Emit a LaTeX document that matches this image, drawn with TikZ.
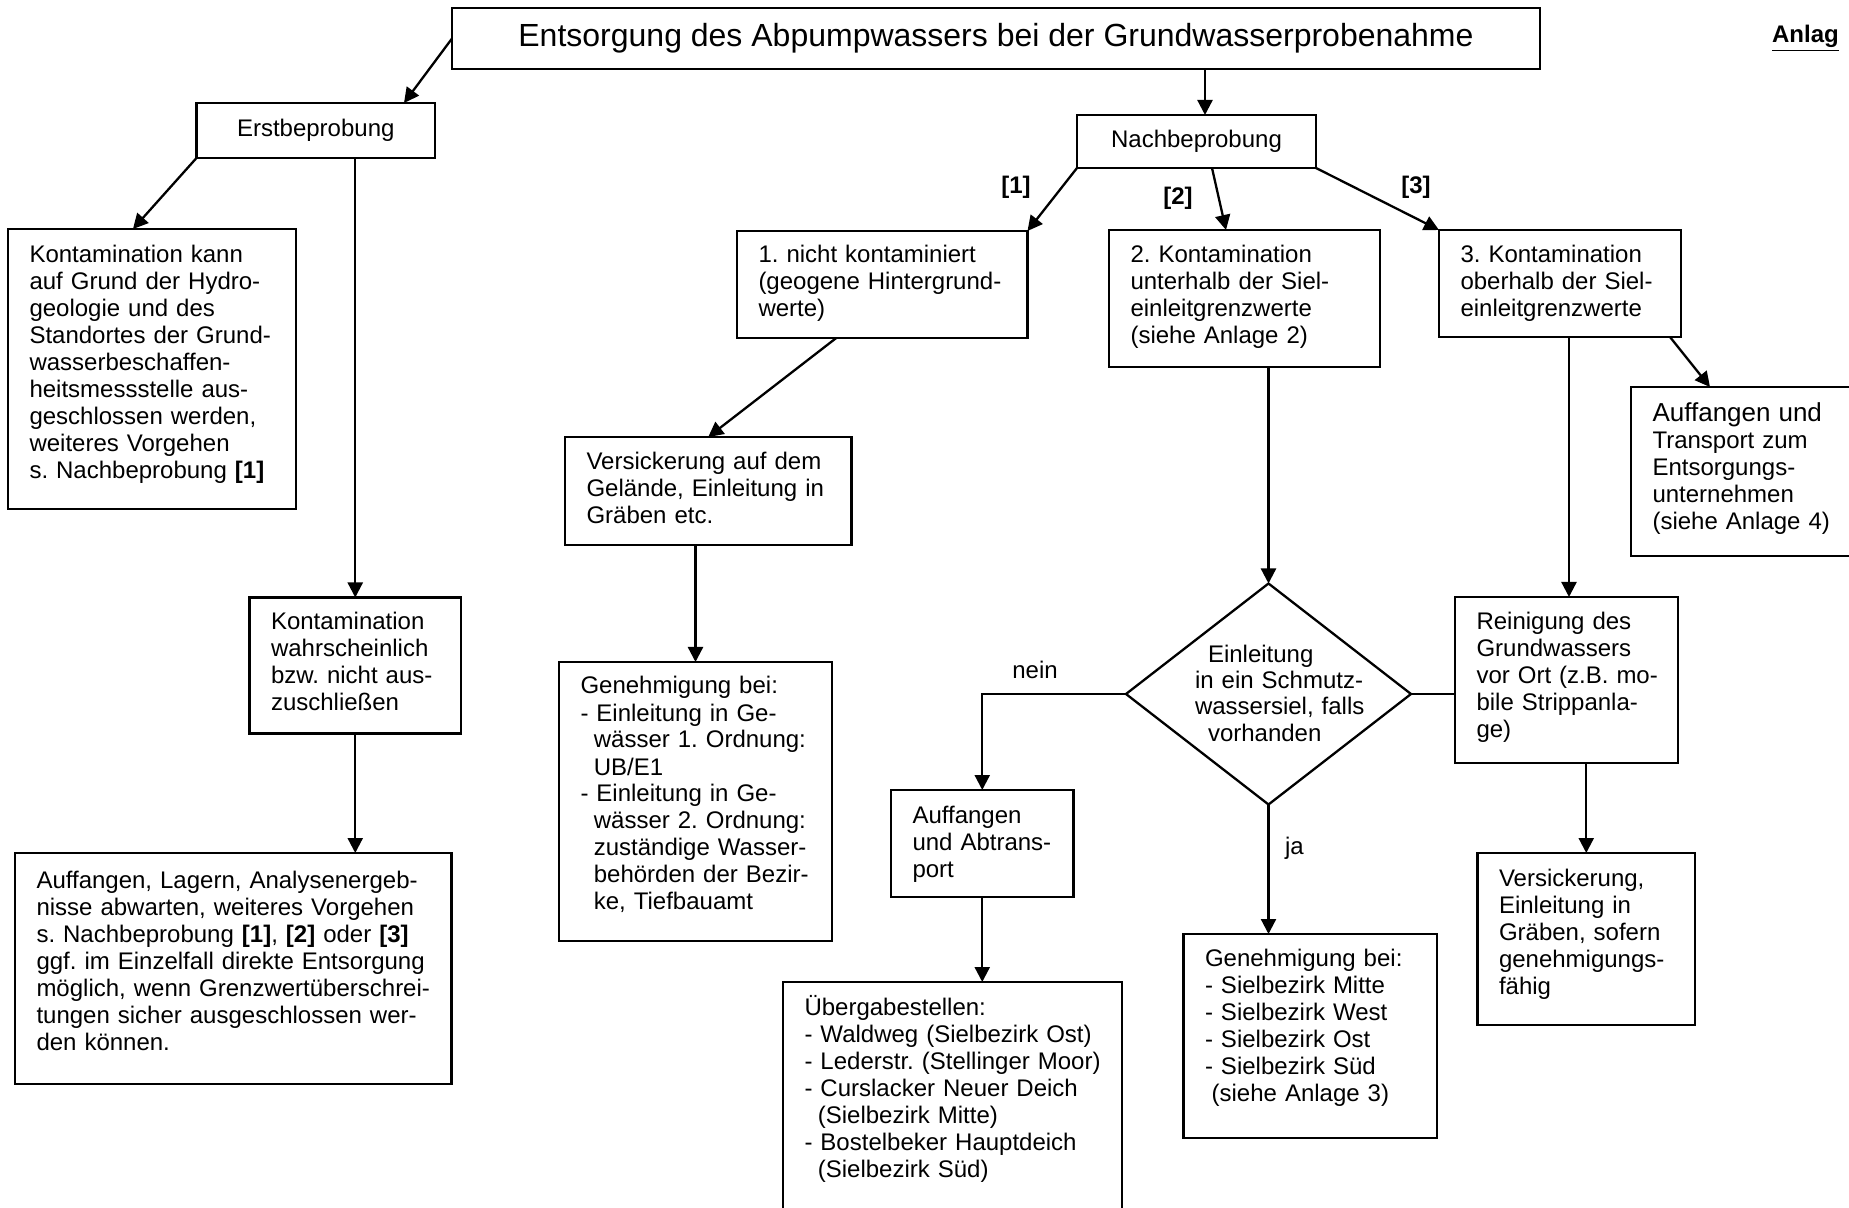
\documentclass[tikz,border=0pt]{standalone}
\usepackage{fontspec}
\setmainfont{Liberation Sans}
\usetikzlibrary{arrows.meta,shapes.geometric}
\newcommand{\einr}{\hspace*{6.67pt}}
\frenchspacing

\begin{document}
\begin{tikzpicture}[x=0.5pt, y=-0.5pt, line width=1.15pt,
	box/.style={draw, rectangle, anchor=north west, inner sep=0pt, outer sep=0pt,
		align=left, font=\fontsize{12}{13.5}\selectfont,
		execute at begin node={\leftskip=10.75pt\rightskip=0pt plus 1fil minus 200pt\relax}},
	kopf/.style={draw, rectangle, inner sep=0pt, outer sep=0pt, font=\fontsize{12}{13.5}\selectfont},
	raute/.style={draw, diamond, inner sep=0pt, outer sep=0pt, align=left,
		font=\fontsize{12}{13.2}\selectfont,
		execute at begin node={\rightskip=0pt plus 1fil minus 200pt\relax}},
	txt/.style={inner sep=0pt, font=\fontsize{12}{13.5}\selectfont},
	marke/.style={txt, font=\fontsize{12}{13.5}\selectfont\bfseries},
	pfeil/.style={-{Triangle[length=7.5pt,width=7.5pt]}}]

	\useasboundingbox (0,0) rectangle (1849,1208);

	\draw (996,38.5) node[kopf, minimum width=544pt, minimum height=30.5pt, font=\fontsize{16}{19}\selectfont] (titel) {Entsorgung des Abpumpwassers bei der Grundwasserprobenahme};
	\draw (1771,43) node[marke, anchor=base west] (anlage) {\underline{Anlag}};

	\draw (315.75,130.5) node[kopf, minimum width=119.25pt, minimum height=27.5pt] (erst) {Erstbeprobung};
	\draw (1196.5,141.5) node[kopf, minimum width=119.5pt, minimum height=26.5pt] (nach) {Nachbeprobung};

	\draw (8,229) node[box, text width=144pt, text height=17pt, text depth=123pt] (kann) {Kontamination kann\\auf Grund der Hydro-\\geologie und des\\Standortes der Grund-\\wasserbeschaffen-\\heitsmessstelle aus-\\geschlossen werden,\\weiteres Vorgehen\\s. Nachbeprobung \textbf{[1]}};
	\draw (249.5,597.5) node[box, text width=105.75pt, text height=16.25pt, text depth=51.75pt] (wahr) {Kontamination\\wahrscheinlich\\bzw. nicht aus-\\zuschließen};
	\draw (15,853) node[box, text width=218.25pt, text height=17.5pt, text depth=98pt] (lager) {Auffangen, Lagern, Analysenergeb-\\nisse abwarten, weiteres Vorgehen\\s. Nachbeprobung \textbf{[1]}, \textbf{[2]} oder \textbf{[3]}\\ggf. im Einzelfall direkte Entsorgung\\möglich, wenn Grenzwertüberschrei-\\tungen sicher ausgeschlossen wer-\\den können.};

	\draw (737,231) node[box, text width=145.25pt, text height=16pt, text depth=37.5pt] (nicht) {1. nicht kontaminiert\\(geogene Hintergrund-\\werte)};
	\draw (1109,230) node[box, text width=135.5pt, text height=16.5pt, text depth=52pt] (unter) {2. Kontamination\\unterhalb der Siel-\\einleitgrenzwerte\\(siehe Anlage 2)};
	\draw (1439,230) node[box, text width=121pt, text height=16.5pt, text depth=37pt] (ober) {3. Kontamination\\oberhalb der Siel-\\einleitgrenzwerte};
	\draw (1631,387) node[box, text width=115.5pt, text height=17.5pt, text depth=67pt] (transp) {{\fontsize{13}{13.5}\selectfont Auffangen und}\\Transport zum\\Entsorgungs-\\unternehmen\\(siehe Anlage 4)};

	\draw (565,437) node[box, text width=143.25pt, text height=16.5pt, text depth=37.5pt] (gel) {Versickerung auf dem\\Gelände, Einleitung in\\Gräben etc.};
	\draw (559,662) node[box, text width=136.5pt, text height=16pt, text depth=123.5pt] (gew) {Genehmigung bei:\\- Einleitung in Ge-\\\einr wässer 1. Ordnung:\\\einr UB/E1\\- Einleitung in Ge-\\\einr wässer 2. Ordnung:\\\einr zuständige Wasser-\\\einr behörden der Bezir-\\\einr ke, Tiefbauamt};

	\draw (1268.5,694) node[raute, minimum width=142.5pt, minimum height=110.5pt, text width=73.5pt, text height=0pt, text depth=32pt] (weiche) {\hspace*{6.5pt}Einleitung\\in ein Schmutz-\\wassersiel, falls\\\hspace*{6.5pt}vorhanden};
	\draw (1455,597) node[box, text width=111.5pt, text height=16.5pt, text depth=66.5pt] (rein) {Reinigung des\\Grundwassers\\vor Ort (z.B. mo-\\bile Strippanla-\\ge)};

	\draw (891,790) node[box, text width=91.25pt, text height=16.5pt, text depth=37pt] (abtr) {Auffangen\\und Abtrans-\\port};
	\draw (783,982) node[box, text width=169.5pt, text height=16.5pt, text depth=105pt] (ueber) {Übergabestellen:\\- Waldweg (Sielbezirk Ost)\\- Lederstr. (Stellinger Moor)\\- Curslacker Neuer Deich\\\einr(Sielbezirk Mitte)\\- Bostelbeker Hauptdeich\\\einr(Sielbezirk Süd)};
	\draw (1183.5,934) node[box, text width=126.75pt, text height=16pt, text depth=86pt] (siel) {Genehmigung bei:\\- Sielbezirk Mitte\\- Sielbezirk West\\- Sielbezirk Ost\\- Sielbezirk Süd\\\hspace*{3.33pt}(siehe Anlage 3)};
	\draw (1477.5,853) node[box, text width=108.75pt, text height=16.5pt, text depth=69.5pt] (sick) {Versickerung,\\Einleitung in\\Gräben, sofern\\genehmigungs-\\fähig};

	\draw (1016,187) node[marke] (m1) {[1]};
	\draw (1178,198) node[marke] (m2) {[2]};
	\draw (1416,187) node[marke] (m3) {[3]};
	\draw (1035,679) node[txt, anchor=base] (nein) {nein};
	\draw (1284,854) node[txt, anchor=base west] (ja) {ja};

	\draw[pfeil] (titel.west) -- ([xshift=-15.5pt]erst.north east);
	\draw[pfeil] ([xshift=4.25pt]nach.north |- titel.south) -- ([xshift=4.25pt]nach.north);
	\draw[pfeil] (erst.south west) -- ([xshift=62.5pt]kann.north west);
	\draw[pfeil] (wahr.north |- erst.south) -- (wahr.north);
	\draw[pfeil] (wahr.south) -- (wahr.south |- lager.north);

	\draw[pfeil] (nach.south west) -- (nicht.north east);
	\draw[pfeil] ([xshift=7.75pt]nach.south) -- ([xshift=-9.25pt]unter.north);
	\draw[pfeil] (nach.south east) -- (ober.north west);
	\draw[pfeil] ([xshift=-23pt]nicht.south) -- (gel.north);
	\draw[pfeil] (gew.north |- gel.south) -- (gew.north);

	\draw[pfeil] (weiche.north |- unter.south) -- (weiche.north);
	\draw[pfeil] ([xshift=1.25pt]rein.north |- ober.south) -- ([xshift=1.25pt]rein.north);
	\draw[pfeil] ([xshift=-5.5pt]ober.south east) -- ([xshift=39.5pt]transp.north west);
	\draw[pfeil] (weiche.west) -| (abtr.north);
	\draw (weiche.east) -- (weiche.east -| rein.west);
	\draw[pfeil] (weiche.south) -- (weiche.south |- siel.north);
	\draw[pfeil] (sick.north |- rein.south) -- (sick.north);
	\draw[pfeil] (abtr.south) -- (abtr.south |- ueber.north);
\end{tikzpicture}
\end{document}
